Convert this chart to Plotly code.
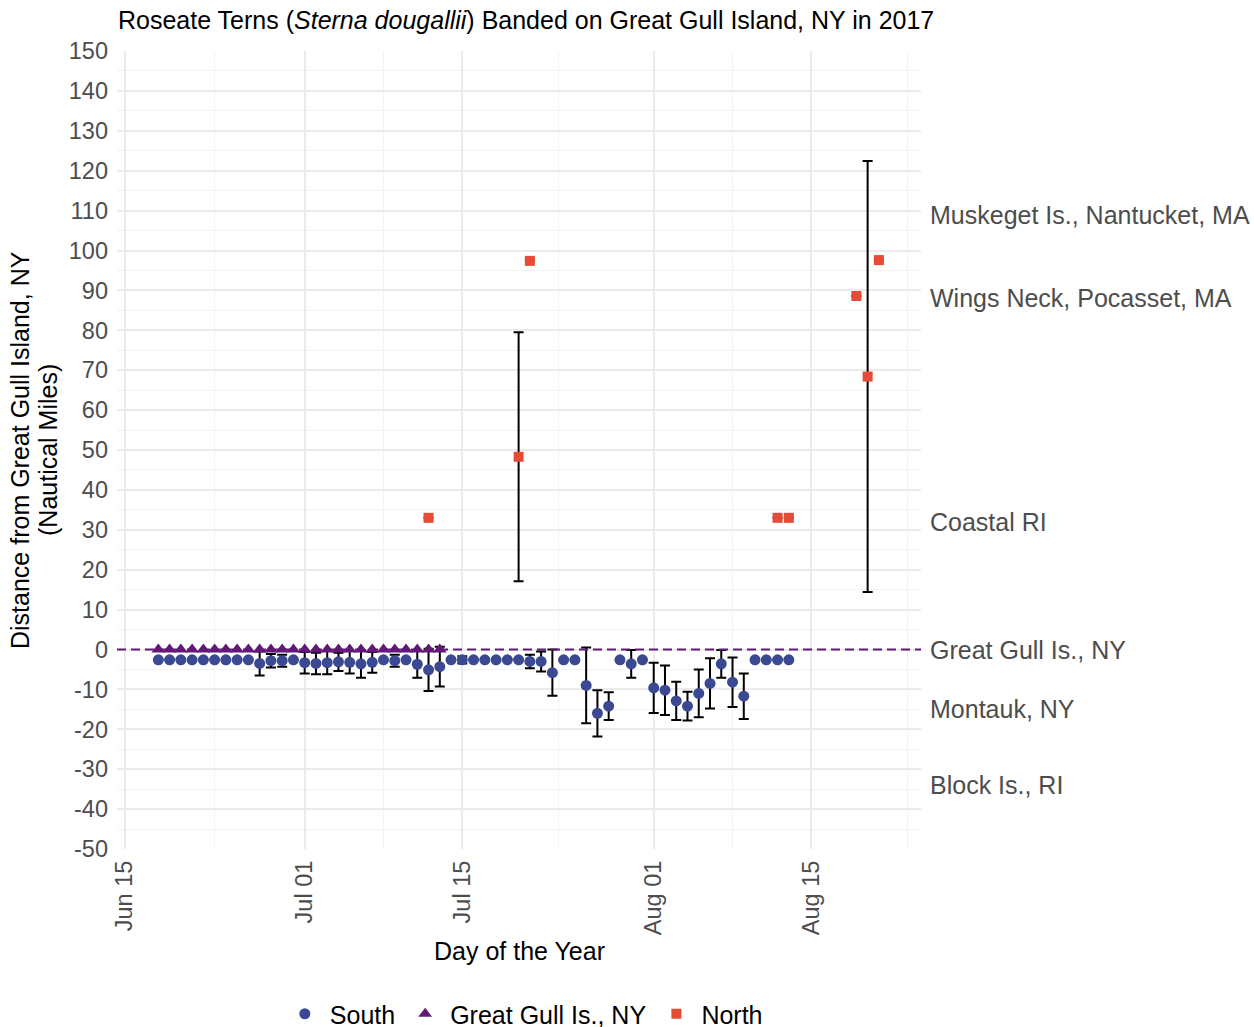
import pandas as pd
import plotly.graph_objects as go

# ---------------- data ----------------
south_dates = pd.date_range("2017-06-18", "2017-08-13", freq="D")
south_vals = [
    -2.6, -2.6, -2.6, -2.6, -2.6, -2.6, -2.6, -2.6, -2.6,   # Jun 18-26
    -3.5, -2.8, -2.8, -2.6,                                 # Jun 27-30
    -3.3, -3.5, -3.3, -3.1, -3.2, -3.6, -3.2, -2.6, -2.8, -2.6,  # Jul 1-10
    -3.7, -5.1, -4.3, -2.6, -2.6, -2.6, -2.6, -2.6, -2.6, -2.6,  # Jul 11-20
    -3.0, -3.0, -5.8, -2.6, -2.6, -9.0, -16.0, -14.2, -2.6, -3.6,  # Jul 21-30
    -2.6,                                                   # Jul 31
    -9.6, -10.2, -12.9, -14.2, -11.0, -8.5, -3.6, -8.2, -11.7,  # Aug 1-9
    -2.6, -2.6, -2.6, -2.6,                                 # Aug 10-13
]
south_err = [
    0, 0, 0, 0, 0, 0, 0, 0, 0,
    3.0, 1.7, 1.5, 0,
    2.7, 2.7, 2.9, 2.3, 2.8, 3.5, 2.6, 0, 1.5, 0,
    3.4, 5.3, 5.0, 0, 0.9, 0, 0, 0, 0, 0,
    1.7, 2.5, 5.8, 0, 0, 9.5, 5.8, 3.5, 0, 3.5,
    0,
    6.3, 6.2, 4.8, 3.6, 6.0, 6.3, 3.5, 6.2, 5.7,
    0, 0, 0, 0,
]

gg_dates = pd.date_range("2017-06-18", "2017-07-13", freq="D")
gg_vals = [0.0] * len(gg_dates)

north_dates = pd.to_datetime(["2017-07-12", "2017-07-20", "2017-07-21", "2017-08-12",
                              "2017-08-13", "2017-08-19", "2017-08-20", "2017-08-21"])
north_vals = [33.0, 48.3, 97.4, 33.0, 33.0, 88.6, 68.4, 97.6]
north_err = [0, 31.2, 0, 0, 0, 0, 54.0, 0]

site_labels = ["Muskeget Is., Nantucket, MA", "Wings Neck, Pocasset, MA", "Coastal RI",
               "Great Gull Is., NY", "Montauk, NY", "Block Is., RI"]
site_values = [109, 88, 32, 0, -15, -34]

x_ticks = ["2017-06-15", "2017-07-01", "2017-07-15", "2017-08-01", "2017-08-15"]
x_ticktext = ["Jun 15", "Jul 01", "Jul 15", "Aug 01", "Aug 15"]
x_minor = ["2017-06-23", "2017-07-08", "2017-07-23 12:00", "2017-08-08", "2017-08-23 12:00"]
y_ticks = list(range(-50, 151, 10))
y_ticktext = [str(v) for v in y_ticks]

# ---------------- styling ----------------
FONT = "Liberation Sans, Arial, sans-serif"
BLUE = "#3B4992"
PURPLE = "#631879"
RED = "#E64B35"
GRAY = "#4D4D4D"
FS_TICK = 23.5
FS = 25

fig = go.Figure()
fig.add_trace(go.Scatter(
    x=south_dates, y=south_vals, mode="markers", name="South",
    marker=dict(symbol="circle", size=11, color=BLUE),
    error_y=dict(type="data", array=south_err, visible=True, color="black",
                 thickness=2, width=5),
))
fig.add_trace(go.Scatter(
    x=gg_dates, y=gg_vals, mode="markers", name="Great Gull Is., NY",
    marker=dict(symbol="triangle-up", size=12, color=PURPLE),
))
fig.add_trace(go.Scatter(
    x=north_dates, y=north_vals, mode="markers", name="North",
    marker=dict(symbol="square", size=10, color=RED),
    error_y=dict(type="data", array=north_err, visible=True, color="black",
                 thickness=2, width=5),
))

fig.add_shape(type="line", xref="paper", x0=0, x1=1, yref="y", y0=0, y1=0,
              line=dict(color=PURPLE, width=2, dash="9px,5px"), layer="above")

x0 = (pd.Timestamp("2017-06-15") - pd.Timedelta(days=0.67)).strftime("%Y-%m-%d %H:%M:%S")
x1 = (pd.Timestamp("2017-06-15") + pd.Timedelta(days=70.74)).strftime("%Y-%m-%d %H:%M:%S")

fig.update_layout(
    width=1254, height=1027,
    margin=dict(l=117, r=333, t=51, b=178, autoexpand=False),
    paper_bgcolor="white", plot_bgcolor="white",
    font=dict(family=FONT, size=FS, color=GRAY),
    showlegend=True,
    legend=dict(orientation="h", xref="paper", x=0.506, xanchor="center",
                yref="paper", y=-(1014 - 849) / 798, yanchor="middle",
                font=dict(size=FS, color="black"), itemwidth=40,
                traceorder="normal"),
    xaxis=dict(
        type="date", range=[x0, x1], automargin=False,
        tickvals=x_ticks, ticktext=x_ticktext, tickangle=-90,
        showgrid=True, gridcolor="#EBEBEB", gridwidth=2,
        minor=dict(tickvals=x_minor, showgrid=True, gridcolor="#F3F3F3", gridwidth=1),
        zeroline=False, showline=False, ticks="",
        tickfont=dict(size=FS_TICK, color=GRAY),
        ticklabelstandoff=6,
    ),
    yaxis=dict(
        range=[-50, 150], automargin=False,
        tickvals=y_ticks, ticktext=y_ticktext,
        showgrid=True, gridcolor="#EBEBEB", gridwidth=2,
        minor=dict(dtick=5, tick0=0, showgrid=True, gridcolor="#F3F3F3", gridwidth=1),
        zeroline=False, showline=False, ticks="",
        tickfont=dict(size=FS_TICK, color=GRAY),
        ticklabelstandoff=8,
    ),
)

W_PLOT = 1254 - 117 - 333
H_PLOT = 1027 - 51 - 178

# title
fig.add_annotation(
    text="Roseate Terns (<i>Sterna dougallii</i>) Banded on Great Gull Island, NY in 2017",
    xref="paper", yref="paper", x=(116 - 117) / W_PLOT, y=(51 - 20) / H_PLOT + 1,
    xanchor="left", yanchor="middle", showarrow=False,
    font=dict(size=FS, color="black", family=FONT),
)
# axis titles
fig.add_annotation(
    text="Day of the Year", xref="paper", yref="paper",
    x=0.5, y=-(951 - 849) / H_PLOT, xanchor="center", yanchor="middle",
    showarrow=False, font=dict(size=FS, color="black", family=FONT),
)
for txt, px in [("Distance from Great Gull Island, NY", 20), ("(Nautical Miles)", 48)]:
    fig.add_annotation(
        text=txt, xref="paper", yref="paper", x=-(117 - px) / W_PLOT, y=0.5,
        xanchor="center", yanchor="middle", textangle=-90, showarrow=False,
        font=dict(size=FS, color="black", family=FONT),
    )
# site labels on the right
for lab, val in zip(site_labels, site_values):
    fig.add_annotation(
        text=lab, xref="paper", yref="y", x=(928 - 117) / W_PLOT, y=val,
        xanchor="left", yanchor="middle", showarrow=False,
        font=dict(size=FS, color=GRAY, family=FONT),
    )

fig.write_html("out.html", config={"displayModeBar": False},
               post_script="document.body.style.margin='0';")
